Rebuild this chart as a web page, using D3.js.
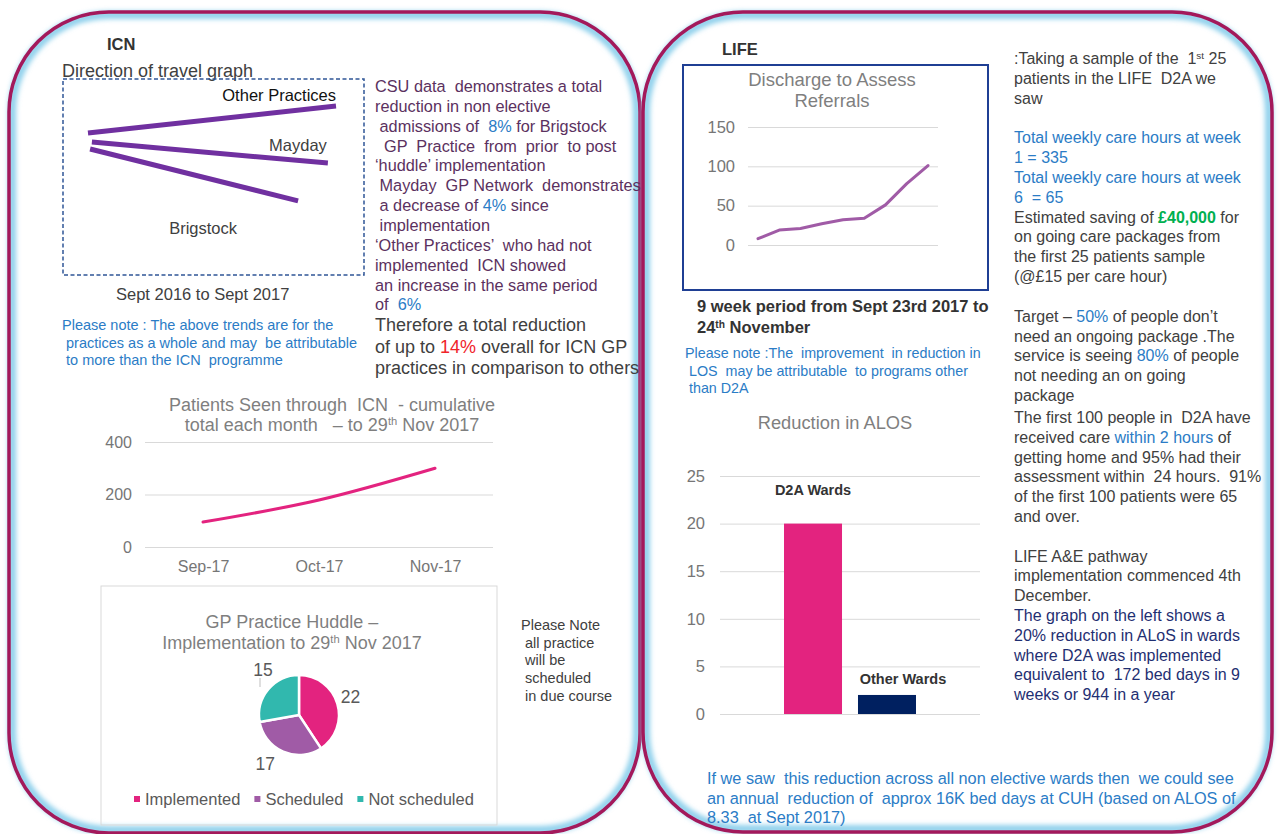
<!DOCTYPE html>
<html lang="en">
<head>
<meta charset="UTF-8" />
<title>ICN and LIFE summary</title>
<style>
  body { margin: 0; background: #fff; }
  svg text { font-family: 'Liberation Sans', Arial, sans-serif; }
  .grid line { stroke: #d9d9d9; stroke-width: 1; }
  .grid path, .axis path, .axis line { display: none; }
</style>
</head>
<body>
<svg width="1279" height="834"></svg>
<script src="https://d3js.org/d3.v7.min.js"></script>
<script>
// --- Direction of travel (relative level, schematic)
const dirNames = ["Other Practices", "Mayday", "Brigstock"];
const dirFrom = [8.3, 9.6, 9.0];     // % of Sept 2016 -> Sept 2017 period
const dirTo = [90.7, 88.0, 78.1];
const dirStart = [72.4, 67.9, 64.3];
const dirEnd = [86.2, 57.1, 37.8];

// --- Patients seen through ICN (cumulative)
const icnMonths = ["Sep-17", "Oct-17", "Nov-17"];
const icnPatients = [95, 179, 300];
const icnTicks = [0, 200, 400];

// --- GP practice huddle
const huddleLabels = ["Implemented", "Scheduled", "Not scheduled"];
const huddleValues = [22, 17, 15];
const huddleColors = ["#e3237f", "#a05ba6", "#31b8ae"];

// --- Discharge to assess referrals, 9 weeks
const d2aWeeks = [1, 2, 3, 4, 5, 6, 7, 8, 9];
const d2aReferrals = [8, 19, 21, 27, 32, 34, 51, 78, 101];
const d2aTicks = [0, 50, 100, 150];

// --- Reduction in ALOS
const alosWards = ["D2A Wards", "Other Wards"];
const alosValues = [20, 2];
const alosColors = ["#e3237f", "#002060"];
const alosTicks = [0, 5, 10, 15, 20, 25];

const GREY = "#404040", TITLE = "#7f7f7f", AXIS = "#767676";
const BLUE = "#2b7cc6", NAVY = "#1f2f72", PURPLE = "#5b3160";

const svg = d3.select("svg");

// --- panels
const defs = svg.append("defs");
defs.append("filter").attr("id", "glow").attr("x", "-5%").attr("y", "-5%").attr("width", "110%").attr("height", "110%")
  .append("feGaussianBlur").attr("stdDeviation", 2.5);

[[9, 12, 631, 821], [643, 12, 629, 820]].forEach(([x, y, w, h]) => {
  svg.append("rect").attr("x", x + 3).attr("y", y + 3).attr("width", w - 6).attr("height", h - 6)
    .attr("rx", 97).attr("fill", "none").attr("stroke", "#8fd0ec").attr("stroke-width", 8)
    .attr("filter", "url(#glow)");
  svg.append("rect").attr("x", x).attr("y", y).attr("width", w).attr("height", h)
    .attr("rx", 100).attr("fill", "none").attr("stroke", "#a3195b").attr("stroke-width", 3.5);
});

// rich text helper: lines of strings or [segments]
function para(x, y, lh, size, color, lines, anchor) {
  const t = svg.append("text").attr("font-size", size).attr("fill", color).style("white-space", "pre")
    .attr("text-anchor", anchor || "start");
  lines.forEach((ln, i) => {
    const segs = Array.isArray(ln) ? ln : [ln];
    segs.forEach((s, j) => {
      const seg = typeof s === "string" ? { t: s } : s;
      const ts = t.append("tspan").text(seg.t);
      if (j === 0) ts.attr("x", x).attr("y", y + i * lh);
      if (seg.c) ts.attr("fill", seg.c);
      if (seg.b) ts.attr("font-weight", "bold");
      if (seg.sup) ts.attr("font-size", size * 0.62).attr("baseline-shift", "super");
    });
  });
  return t;
}

// ================= LEFT PANEL =================
para(107, 50, 0, 16.5, "#333", [[{ t: "ICN", b: true }]]);
para(62, 77, 0, 18, GREY, ["Direction of travel graph"]);

// direction of travel graph
const dx = d3.scaleLinear().domain([0, 100]).range([63, 364]);
const dy = d3.scaleLinear().domain([0, 100]).range([275, 79]);
svg.append("rect").attr("x", dx(0)).attr("y", dy(100)).attr("width", dx(100) - dx(0)).attr("height", dy(0) - dy(100))
  .attr("fill", "none").attr("stroke", "#2f5597").attr("stroke-width", 1.5).attr("stroke-dasharray", "4,2.5");

const dirData = dirNames.map((n, i) => ({ name: n, x0: dirFrom[i], x1: dirTo[i], y0: dirStart[i], y1: dirEnd[i] }));
svg.selectAll(".dir").data(dirData).join("line").attr("class", "dir")
  .attr("x1", d => dx(d.x0)).attr("y1", d => dy(d.y0))
  .attr("x2", d => dx(d.x1)).attr("y2", d => dy(d.y1))
  .attr("stroke", "#7030a0").attr("stroke-width", 5);

const dirLabelShift = [[0, -5, "end"], [-1, -12, "end"], [-95, 33, "middle"]];
svg.selectAll(".dirlab").data(dirData).join("text").attr("class", "dirlab")
  .attr("x", (d, i) => dx(d.x1) + dirLabelShift[i][0])
  .attr("y", (d, i) => dy(d.y1) + dirLabelShift[i][1])
  .attr("text-anchor", (d, i) => dirLabelShift[i][2])
  .attr("font-size", 16.5).attr("fill", (d, i) => i === 0 ? "#111" : GREY)
  .text(d => d.name);

para(116, 300, 0, 16.5, GREY, ["Sept 2016 to Sept 2017"]);
para(62, 330, 17.7, 14.5, BLUE, [
  "Please note : The above trends are for the",
  " practices as a whole and may  be attributable",
  " to more than the ICN  programme"
]);

// CSU text
para(375, 92, 19.85, 16.3, PURPLE, [
  "CSU data  demonstrates a total",
  "reduction in non elective",
  [" admissions of  ", { t: "8%", c: BLUE }, " for Brigstock"],
  "  GP  Practice  from  prior  to post",
  "‘huddle’ implementation",
  " Mayday  GP Network  demonstrates",
  [" a decrease of ", { t: "4%", c: BLUE }, " since"],
  " implementation",
  "‘Other Practices’  who had not",
  "implemented  ICN showed",
  "an increase in the same period",
  ["of  ", { t: "6%", c: BLUE }]
]);
para(375, 331, 21.5, 18, GREY, [
  "Therefore a total reduction",
  ["of up to ", { t: "14%", c: "#f0242a" }, " overall for ICN GP"],
  "practices in comparison to others"
]);

// --- Patients seen through ICN
para(332, 411, 20, 18, TITLE, [
  "Patients Seen through  ICN  - cumulative",
  ["total each month   – to 29", { t: "th", sup: true }, " Nov 2017"]
], "middle");
const px = d3.scalePoint().domain(icnMonths).range([145, 493]).padding(0.5);
const py = d3.scaleLinear().domain([0, 400]).range([547, 442]);
svg.append("g").attr("class", "grid").attr("transform", "translate(145,0)")
  .call(d3.axisLeft(py).tickValues(icnTicks).tickSize(-348).tickFormat(""));
const pyAxis = svg.append("g").attr("class", "axis").attr("transform", "translate(145,0)")
  .call(d3.axisLeft(py).tickValues(icnTicks).tickSize(0).tickPadding(13));
pyAxis.selectAll("text").attr("fill", AXIS).attr("font-size", 16);
const pxAxis = svg.append("g").attr("class", "axis").attr("transform", "translate(0,547)")
  .call(d3.axisBottom(px).tickSize(0).tickPadding(14));
pxAxis.selectAll("text").attr("fill", AXIS).attr("font-size", 16);
svg.append("path").datum(icnPatients)
  .attr("d", d3.line().x((d, i) => px(icnMonths[i])).y(d => py(d)).curve(d3.curveMonotoneX))
  .attr("fill", "none").attr("stroke", "#e3237f").attr("stroke-width", 3).attr("stroke-linecap", "round");

// --- GP practice huddle pie
svg.append("rect").attr("x", 101).attr("y", 586).attr("width", 396).attr("height", 239)
  .attr("fill", "none").attr("stroke", "#d9d9d9");
para(292, 628, 20.5, 18, TITLE, [
  "GP Practice Huddle –",
  ["Implementation to 29", { t: "th", sup: true }, " Nov 2017"]
], "middle");

const pie = d3.pie().sort(null)(huddleValues);
const arc = d3.arc().innerRadius(0).outerRadius(40);
const labelArc = d3.arc().innerRadius(60).outerRadius(60);
const pieG = svg.append("g").attr("transform", "translate(299,715)");
pieG.selectAll("path").data(pie).join("path")
  .attr("d", arc).attr("fill", (d, i) => huddleColors[i])
  .attr("stroke", "#fff").attr("stroke-width", 2.5);
const pieNudge = [[-6, -1], [-10, -6], [10, -7]];
pieG.selectAll("text").data(pie).join("text")
  .attr("x", (d, i) => labelArc.centroid(d)[0] + pieNudge[i][0])
  .attr("y", (d, i) => labelArc.centroid(d)[1] + pieNudge[i][1])
  .attr("dy", "0.35em").attr("text-anchor", "middle")
  .attr("font-size", 17.5).attr("fill", "#595959").text(d => d.data);
pieG.append("line").attr("x1", -39).attr("x2", -39).attr("y1", -37).attr("y2", -28)
  .attr("stroke", "#bfbfbf");

// legend
let lx = 134;
huddleLabels.forEach((lab, i) => {
  svg.append("rect").attr("x", lx).attr("y", 796).attr("width", 6).attr("height", 6).attr("fill", huddleColors[i]);
  const t = svg.append("text").attr("x", lx + 11).attr("y", 805).attr("font-size", 16.5).attr("fill", "#595959").text(lab);
  lx += 11 + t.node().getComputedTextLength() + 14;
});

para(521, 630, 17.7, 14.5, GREY, ["Please Note", " all practice", " will be", " scheduled", " in due course"]);

// ================= RIGHT PANEL =================
para(722, 55, 0, 16.5, "#333", [[{ t: "LIFE", b: true }]]);

// Discharge to assess
svg.append("rect").attr("x", 683).attr("y", 65).attr("width", 305).attr("height", 225)
  .attr("fill", "none").attr("stroke", "#1f3f94").attr("stroke-width", 2);
para(832, 86, 20.5, 18.5, TITLE, ["Discharge to Assess", "Referrals"], "middle");

const wx = d3.scaleLinear().domain([1, 9]).range([758, 928]);
const wy = d3.scaleLinear().domain([0, 150]).range([245, 127]);
svg.append("g").attr("class", "grid").attr("transform", "translate(748,0)")
  .call(d3.axisLeft(wy).tickValues(d2aTicks).tickSize(-190).tickFormat(""));
const wyAxis = svg.append("g").attr("class", "axis").attr("transform", "translate(748,0)")
  .call(d3.axisLeft(wy).tickValues(d2aTicks).tickSize(0).tickPadding(13));
wyAxis.selectAll("text").attr("fill", AXIS).attr("font-size", 16.5);
svg.append("path").datum(d2aReferrals)
  .attr("d", d3.line().x((d, i) => wx(d2aWeeks[i])).y(d => wy(d)))
  .attr("fill", "none").attr("stroke", "#a05ba6").attr("stroke-width", 3)
  .attr("stroke-linecap", "round").attr("stroke-linejoin", "round");

para(697, 312, 20.5, 16.5, "#333", [
  [{ t: "9 week period from Sept 23rd 2017 to", b: true }],
  [{ t: "24", b: true }, { t: "th", b: true, sup: true }, { t: " November", b: true }]
]);
para(685, 358, 17.6, 14.3, BLUE, [
  "Please note :The  improvement  in reduction in",
  " LOS  may be attributable  to programs other",
  " than D2A"
]);

// Reduction in ALOS
para(835, 429, 0, 18.3, TITLE, ["Reduction in ALOS"], "middle");
const ax0 = d3.scaleBand().domain(["ALOS"]).range([720, 980]).paddingOuter(0.485).paddingInner(0);
const ax1 = d3.scaleBand().domain(alosWards).range([0, ax0.bandwidth()]).paddingInner(0.216);
const ay = d3.scaleLinear().domain([0, 25]).range([714, 476]);
svg.append("g").attr("class", "grid").attr("transform", "translate(720,0)")
  .call(d3.axisLeft(ay).tickValues(alosTicks).tickSize(-260).tickFormat(""));
const ayAxis = svg.append("g").attr("class", "axis").attr("transform", "translate(720,0)")
  .call(d3.axisLeft(ay).tickValues(alosTicks).tickSize(0).tickPadding(15));
ayAxis.selectAll("text").attr("fill", AXIS).attr("font-size", 16.5);
const alosData = alosWards.map((w, i) => ({ ward: w, value: alosValues[i], color: alosColors[i] }));
const barG = svg.append("g").attr("transform", `translate(${ax0("ALOS")},0)`);
barG.selectAll("rect").data(alosData).join("rect")
  .attr("x", d => ax1(d.ward)).attr("width", ax1.bandwidth())
  .attr("y", d => ay(d.value)).attr("height", d => ay(0) - ay(d.value))
  .attr("fill", d => d.color);
const alosLabelDx = [0, 16];
barG.selectAll("text").data(alosData).join("text")
  .attr("x", (d, i) => ax1(d.ward) + ax1.bandwidth() / 2 + alosLabelDx[i])
  .attr("y", d => ay(d.value) - (d.value > 10 ? 29 : 11))
  .attr("text-anchor", "middle").attr("font-size", 14.5).attr("font-weight", "bold").attr("fill", "#333")
  .text(d => d.ward);

// right column text
para(1014, 64, 19.83, 16, GREY, [
  [":Taking a sample of the  1", { t: "st", sup: true }, " 25"],
  "patients in the LIFE  D2A we",
  "saw",
  "",
  [{ t: "Total weekly care hours at week", c: BLUE }],
  [{ t: "1 = 335", c: BLUE }],
  [{ t: "Total weekly care hours at week", c: BLUE }],
  [{ t: "6  = 65", c: BLUE }],
  ["Estimated saving of ", { t: "£40,000", c: "#00b050", b: true }, " for"],
  "on going care packages from",
  "the first 25 patients sample",
  "(@£15 per care hour)",
  "",
  ["Target – ", { t: "50%", c: BLUE }, " of people don’t"],
  "need an ongoing package .The",
  ["service is seeing ", { t: "80%", c: BLUE }, " of people"],
  "not needing an on going",
  "package"
]);
para(1014, 423, 19.8, 16, GREY, [
  "The first 100 people in  D2A have",
  ["received care ", { t: "within 2 hours", c: BLUE }, " of"],
  "getting home and 95% had their",
  "assessment within  24 hours.  91%",
  "of the first 100 patients were 65",
  "and over.",
  "",
  "LIFE A&E pathway",
  "implementation commenced 4th",
  "December.",
  [{ t: "The graph on the left shows a", c: NAVY }],
  [{ t: "20% reduction in ALoS in wards", c: NAVY }],
  [{ t: "where D2A was implemented", c: NAVY }],
  [{ t: "equivalent to  172 bed days in 9", c: NAVY }],
  [{ t: "weeks or 944 in a year", c: NAVY }]
]);

para(707, 784, 19.6, 16.3, BLUE, [
  "If we saw  this reduction across all non elective wards then  we could see",
  "an annual  reduction of  approx 16K bed days at CUH (based on ALOS of",
  "8.33  at Sept 2017)"
]);
</script>
</body>
</html>
